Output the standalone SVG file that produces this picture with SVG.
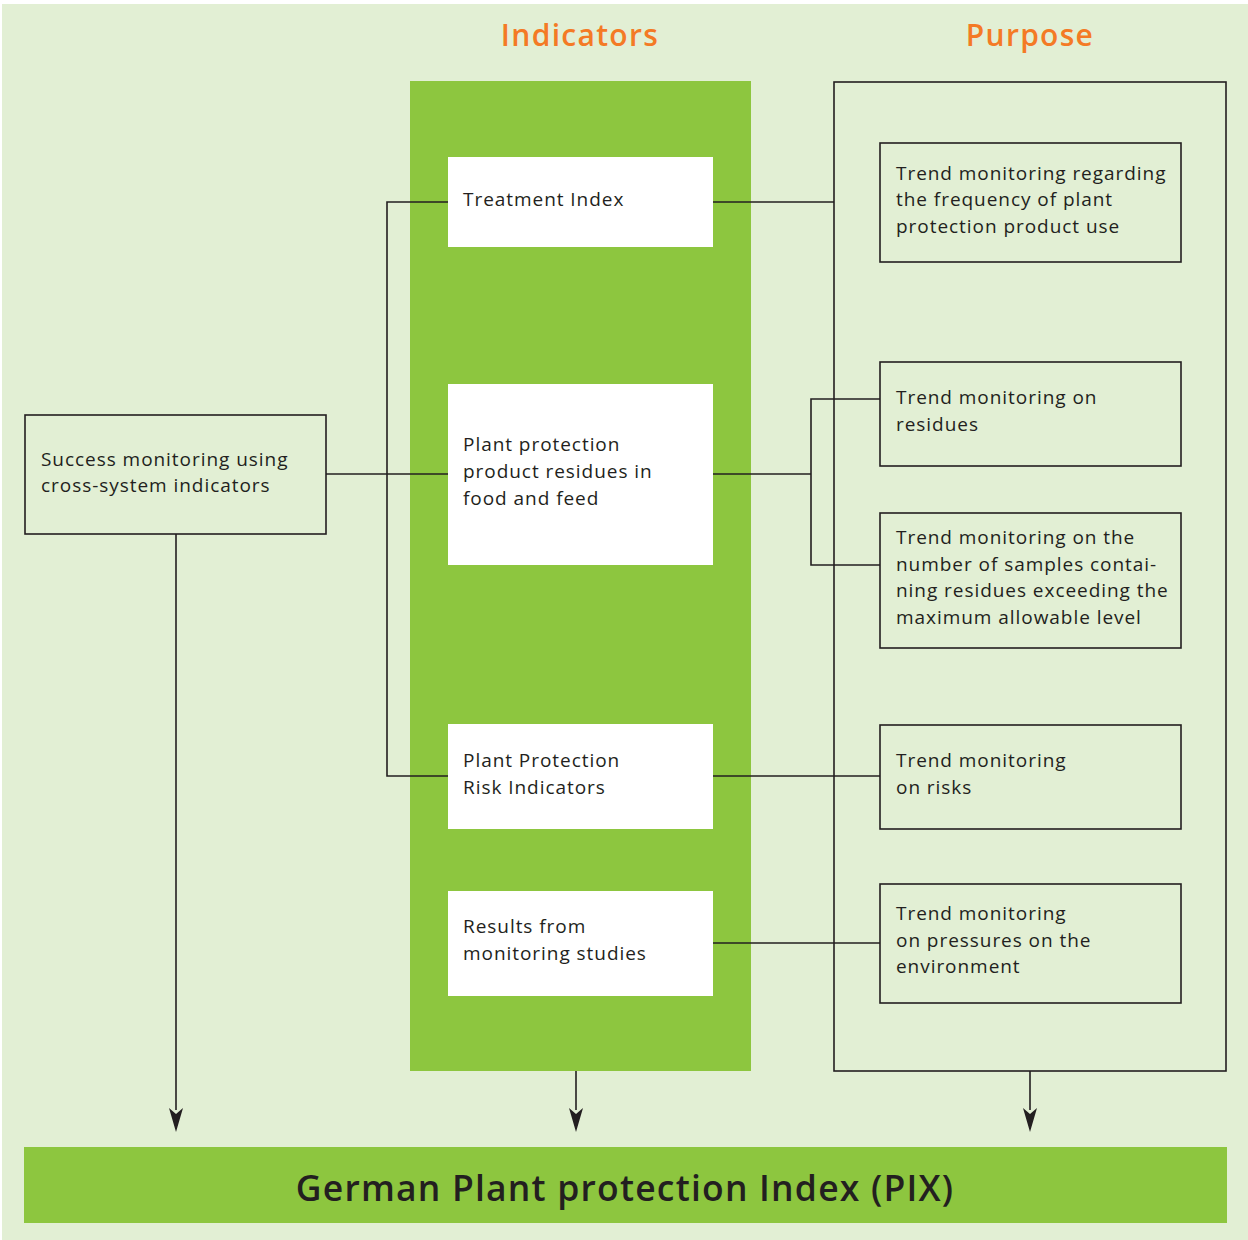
<svg xmlns="http://www.w3.org/2000/svg" width="1248" height="1240" viewBox="0 0 1248 1240">
<style>
.t{font-family:"Open Sans","Noto Sans",sans-serif;font-size:19px;fill:#231f20;letter-spacing:0.95px}
.h{font-family:"Open Sans","Noto Sans",sans-serif;font-size:30px;font-weight:600;fill:#f47a25;letter-spacing:1.3px;text-anchor:middle}
.ln{stroke:#231f20;stroke-width:1.6;fill:none}
.box{fill:none;stroke:#231f20;stroke-width:1.6}
.wb{fill:#ffffff}
.ah{fill:#231f20}
</style>
<rect x="2" y="4" width="1246" height="1236" fill="#e2efd4"/>
<text class="h" x="580" y="46">Indicators</text>
<text class="h" x="1030" y="46">Purpose</text>
<rect x="410" y="81" width="341" height="990" fill="#8dc63f"/>
<g id="connectors">
<polyline class="ln" points="448,202 387,202 387,776 448,776"/>
<line class="ln" x1="326" y1="474" x2="448" y2="474"/>
<line class="ln" x1="713" y1="202" x2="834" y2="202"/>
<line class="ln" x1="713" y1="474" x2="811" y2="474"/>
<polyline class="ln" points="880,399 811,399 811,565 880,565"/>
<line class="ln" x1="713" y1="776" x2="880" y2="776"/>
<line class="ln" x1="713" y1="943" x2="880" y2="943"/>
<line class="ln" x1="176" y1="534" x2="176" y2="1110"/>
<line class="ln" x1="576" y1="1071" x2="576" y2="1110"/>
<line class="ln" x1="1030" y1="1071" x2="1030" y2="1110"/>
<path class="ah" d="M169,1108 L176,1132 L183,1108 L176,1114 Z"/>
<path class="ah" d="M569,1108 L576,1132 L583,1108 L576,1114 Z"/>
<path class="ah" d="M1023,1108 L1030,1132 L1037,1108 L1030,1114 Z"/>
</g>
<g id="purpose-frame"><rect class="box" x="834" y="82" width="392" height="989"/></g>
<g id="success"><rect class="box" x="25" y="415" width="301" height="119"/>
<text class="t" x="41" y="466">Success monitoring using</text>
<text class="t" x="41" y="492">cross-system indicators</text></g>
<g id="treatment-index"><rect class="wb" x="448" y="157" width="265" height="90"/>
<text class="t" x="463" y="206">Treatment Index</text></g>
<g id="residues"><rect class="wb" x="448" y="384" width="265" height="181"/>
<text class="t" x="463" y="451">Plant protection</text>
<text class="t" x="463" y="478">product residues in</text>
<text class="t" x="463" y="505">food and feed</text></g>
<g id="risk-indicators"><rect class="wb" x="448" y="724" width="265" height="105"/>
<text class="t" x="463" y="767">Plant Protection</text>
<text class="t" x="463" y="794">Risk Indicators</text></g>
<g id="monitoring-studies"><rect class="wb" x="448" y="891" width="265" height="105"/>
<text class="t" x="463" y="933">Results from</text>
<text class="t" x="463" y="960">monitoring studies</text></g>
<g id="p-frequency"><rect class="box" x="880" y="143" width="301" height="119"/>
<text class="t" x="896" y="180">Trend monitoring regarding</text>
<text class="t" x="896" y="206">the frequency of plant</text>
<text class="t" x="896" y="233">protection product use</text></g>
<g id="p-residues"><rect class="box" x="880" y="362" width="301" height="104"/>
<text class="t" x="896" y="404">Trend monitoring on</text>
<text class="t" x="896" y="431">residues</text></g>
<g id="p-samples"><rect class="box" x="880" y="513" width="301" height="135"/>
<text class="t" x="896" y="544">Trend monitoring on the</text>
<text class="t" x="896" y="571">number of samples contai-</text>
<text class="t" x="896" y="597">ning residues exceeding the</text>
<text class="t" x="896" y="624">maximum allowable level</text></g>
<g id="p-risks"><rect class="box" x="880" y="725" width="301" height="104"/>
<text class="t" x="896" y="767">Trend monitoring</text>
<text class="t" x="896" y="794">on risks</text></g>
<g id="p-pressures"><rect class="box" x="880" y="884" width="301" height="119"/>
<text class="t" x="896" y="920">Trend monitoring</text>
<text class="t" x="896" y="947">on pressures on the</text>
<text class="t" x="896" y="973">environment</text></g>
<g id="pix"><rect x="24" y="1147" width="1203" height="76" fill="#8dc63f"/>
<text x="625" y="1201" style="font-family:'Open Sans','Noto Sans',sans-serif;font-size:35.5px;font-weight:600;fill:#231f20;letter-spacing:1.2px;text-anchor:middle">German Plant protection Index (PIX)</text></g>
</svg>
